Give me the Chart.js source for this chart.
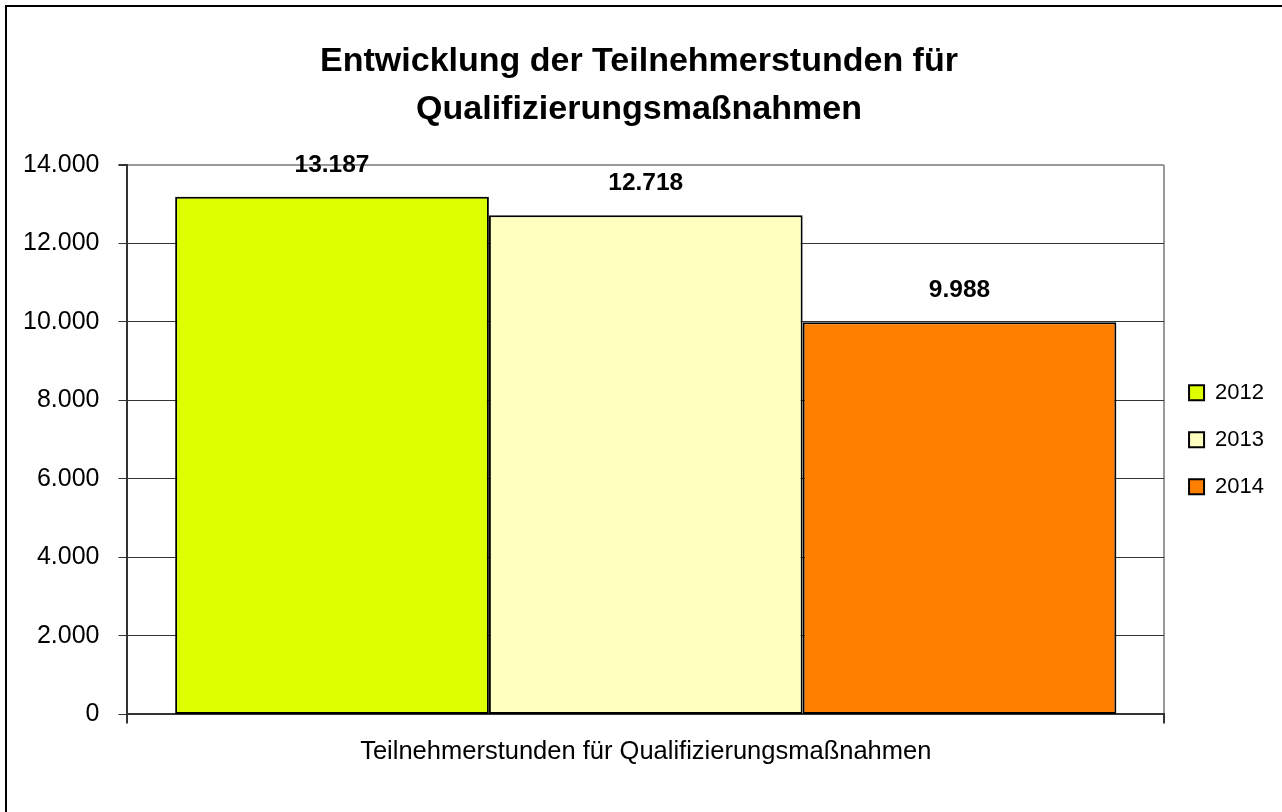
<!DOCTYPE html>
<html lang="de">
<head>
    <meta charset="UTF-8">
    <title>Entwicklung der Teilnehmerstunden</title>
    <script src="https://cdn.jsdelivr.net/npm/chart.js"></script>
    <style>
        body {
            margin: 0;
            background-color: white;
            overflow: hidden;
        }
        .frame {
            position: absolute;
            left: 5px;
            top: 5px;
            width: 1400px;
            height: 900px;
            border-left: 2px solid #000;
            border-top: 2px solid #000;
        }
        .chart-box {
            position: absolute;
            left: 0;
            top: 0;
            width: 1282px;
            height: 812px;
        }
    </style>
</head>
<body>
    <div class="frame"></div>
    <div class="chart-box">
        <canvas id="chart"></canvas>
    </div>

    <script>
        const titleLines = ['Entwicklung der Teilnehmerstunden für', 'Qualifizierungsmaßnahmen'];
        const categories = ['Teilnehmerstunden für Qualifizierungsmaßnahmen'];
        const years = ['2012', '2013', '2014'];
        const values = [13187, 12718, 9988];
        const barColors = ['#DDFF00', '#FFFFC0', '#FF8000'];

        const font = "'Liberation Sans', Arial, sans-serif";

        const fmt = v => v.toLocaleString('de-DE');

        // Werte über den Balken
        const valueLabels = {
            id: 'valueLabels',
            afterDatasetsDraw(chart) {
                const ctx = chart.ctx;
                ctx.save();
                ctx.font = 'bold 24.5px ' + font;
                ctx.fillStyle = '#000';
                ctx.textAlign = 'center';
                ctx.textBaseline = 'middle';
                chart.data.datasets.forEach((ds, i) => {
                    const meta = chart.getDatasetMeta(i);
                    meta.data.forEach((bar, j) => {
                        ctx.fillText(fmt(ds.data[j]), bar.x, bar.y - 32);
                    });
                });
                ctx.restore();
            }
        };

        const datasets = years.map((y, i) => ({
            label: y,
            data: [values[i]],
            backgroundColor: barColors[i],
            borderColor: '#000',
            borderWidth: 2,
            borderSkipped: false,
            categoryPercentage: 0.908,
            barPercentage: 1
        }));

        new Chart(document.getElementById('chart'), {
            type: 'bar',
            data: { labels: categories, datasets: datasets },
            options: {
                responsive: true,
                maintainAspectRatio: false,
                animation: false,
                layout: { padding: { left: 4, right: 8, top: 0, bottom: 32 } },
                plugins: {
                    title: {
                        display: true,
                        text: titleLines,
                        color: '#000',
                        font: { family: font, size: 34, weight: 'bold', lineHeight: 1.41 },
                        padding: { top: 38, bottom: 31 }
                    },
                    legend: {
                        position: 'right',
                        fullSize: false,
                        labels: {
                            boxWidth: 15,
                            boxHeight: 15,
                            padding: 25,
                            color: '#000',
                            font: { family: font, size: 22 }
                        }
                    },
                    tooltip: { enabled: false }
                },
                scales: {
                    x: {
                        grid: {
                            offset: true,
                            color: '#999',
                            lineWidth: 2,
                            tickColor: '#333',
                            tickLength: 9
                        },
                        border: { color: '#333', width: 2 },
                        ticks: {
                            color: '#000',
                            padding: 13,
                            font: { family: font, size: 25.5 }
                        }
                    },
                    y: {
                        min: 0,
                        max: 14000,
                        grid: {
                            color: c => c.tick && c.tick.value === 14000 ? '#999' : '#333',
                            lineWidth: c => c.tick && c.tick.value === 14000 ? 2 : 1,
                            tickColor: '#333',
                            tickLength: 9
                        },
                        border: { color: '#333', width: 2 },
                        ticks: {
                            stepSize: 2000,
                            color: '#000',
                            padding: 19,
                            font: { family: font, size: 25 },
                            callback: v => fmt(v)
                        }
                    }
                }
            },
            plugins: [valueLabels]
        });
    </script>
</body>
</html>
